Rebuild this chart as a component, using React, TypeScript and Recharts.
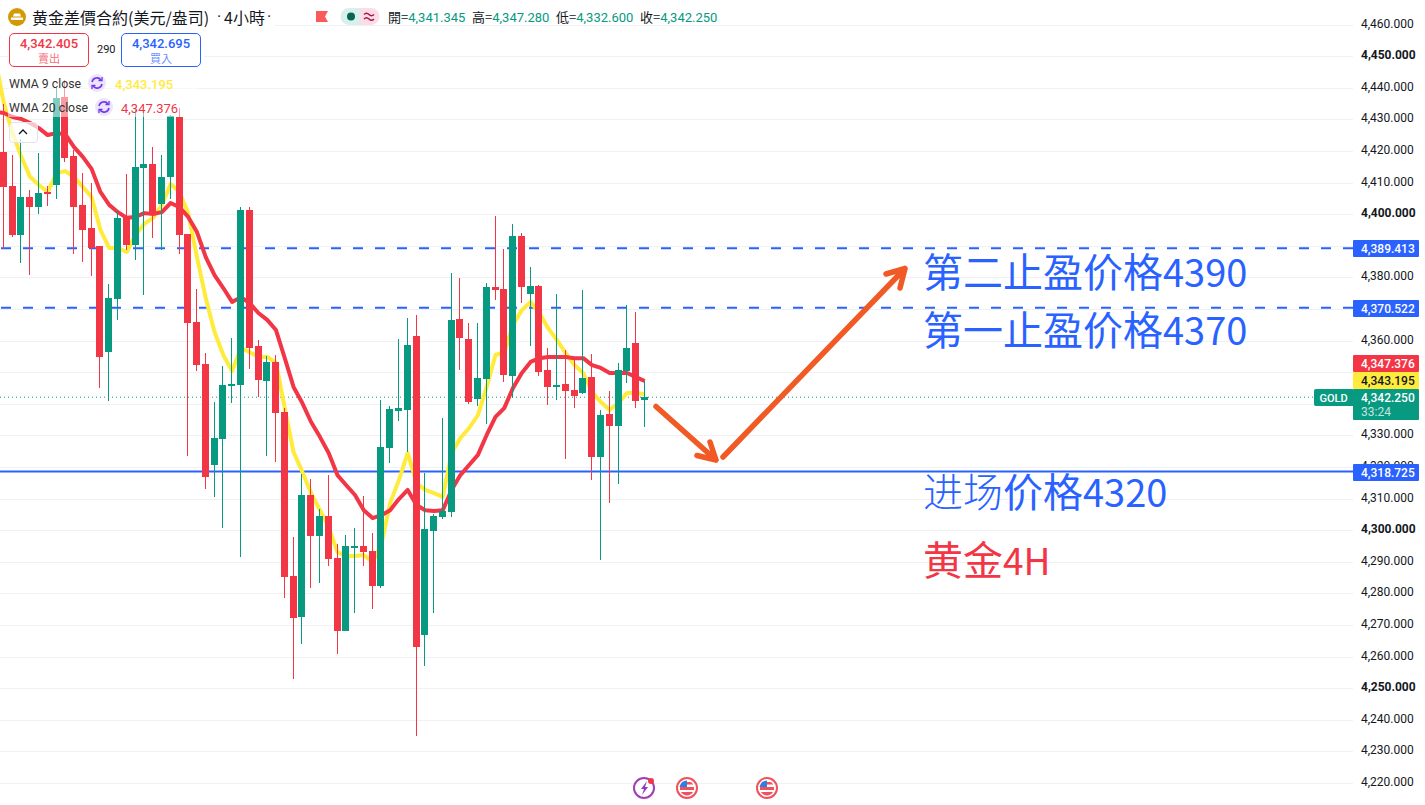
import { Bar, CartesianGrid, ComposedChart, Line, ReferenceLine, XAxis, YAxis } from "recharts"

const UP = "#089981"
const DOWN = "#f23645"
const BLUE = "#2962ff"
const YELLOW = "#ffeb3b"
const FONT = "Roboto, sans-serif"
const CJK = '"Noto Sans CJK TC", Roboto, sans-serif'
const CJK_SC = '"Noto Sans CJK SC", sans-serif'

const opens = [
  4419.9, 4409.1, 4393.6, 4405.6, 4402.5, 4407.2, 4409.4, 4437.3, 4418.6, 4403.1,
  4395.8, 4390.1, 4356.5, 4373.3, 4399.0, 4390.4, 4414.8, 4416.1, 4403.4, 4412.0,
  4431.0, 4393.9, 4366.0, 4352.7, 4320.7, 4329.0, 4345.8, 4346.1, 4401.5, 4358.5,
  4347.3, 4353.4, 4337.5, 4285.6, 4272.6, 4311.2, 4298.2, 4304.6, 4291.3, 4268.2,
  4294.8, 4295.1, 4293.5, 4282.4, 4326.1, 4337.8, 4338.2, 4361.6, 4266.9, 4299.8,
  4304.3, 4305.9, 4367.0, 4360.6, 4341.7, 4348.0, 4377.1, 4376.5, 4348.9, 4393.3,
  4374.9, 4377.5, 4350.8, 4345.5, 4346.4, 4344.5, 4343.6, 4348.6, 4323.3, 4336.9,
  4333.1, 4350.5, 4359.4, 4341.345,
]
const highs = [
  4435.1, 4418.9, 4424.0, 4407.9, 4419.6, 4409.1, 4440.2, 4442.7, 4420.5, 4413.2,
  4410.1, 4390.1, 4378.1, 4401.2, 4412.9, 4433.2, 4432.2, 4421.5, 4418.9, 4431.6,
  4433.8, 4393.9, 4376.5, 4356.2, 4340.7, 4352.1, 4361.0, 4402.5, 4402.5, 4360.3,
  4355.3, 4355.6, 4338.8, 4297.9, 4317.9, 4316.3, 4306.8, 4317.6, 4295.7, 4298.6,
  4300.8, 4310.9, 4299.2, 4341.3, 4339.4, 4360.6, 4367.3, 4368.2, 4318.2, 4305.2,
  4335.6, 4381.6, 4380.0, 4365.7, 4365.7, 4378.4, 4399.6, 4389.2, 4397.1, 4394.2,
  4383.5, 4377.8, 4357.8, 4374.9, 4357.2, 4354.0, 4376.2, 4355.9, 4338.2, 4344.2,
  4353.1, 4371.4, 4369.2, 4347.28,
]
const lows = [
  4389.2, 4393.0, 4384.7, 4380.9, 4400.2, 4402.8, 4405.0, 4416.7, 4387.6, 4385.1,
  4380.6, 4345.1, 4341.0, 4366.7, 4388.9, 4385.7, 4374.6, 4392.6, 4388.9, 4405.0,
  4387.6, 4323.6, 4350.5, 4313.1, 4310.6, 4300.8, 4340.4, 4291.6, 4351.2, 4342.3,
  4323.6, 4321.7, 4278.6, 4252.9, 4264.1, 4281.8, 4283.4, 4288.7, 4260.9, 4268.2,
  4273.9, 4288.7, 4275.1, 4281.8, 4321.4, 4334.7, 4324.8, 4234.9, 4257.1, 4273.9,
  4303.6, 4304.3, 4350.8, 4340.1, 4339.4, 4333.7, 4373.0, 4347.0, 4342.0, 4372.0,
  4358.5, 4348.9, 4339.8, 4341.3, 4322.6, 4338.8, 4343.2, 4316.0, 4290.6, 4308.7,
  4314.7, 4346.7, 4338.8, 4332.6,
]
const closes = [
  4408.8, 4393.6, 4405.6, 4402.5, 4406.9, 4406.6, 4437.0, 4418.0, 4402.5, 4395.2,
  4389.5, 4355.0, 4373.6, 4399.0, 4390.4, 4415.1, 4416.1, 4400.9, 4412.0, 4431.3,
  4393.6, 4365.7, 4352.4, 4316.9, 4329.3, 4346.1, 4346.4, 4401.5, 4357.8, 4347.6,
  4353.4, 4337.2, 4285.3, 4272.3, 4311.2, 4298.2, 4304.6, 4291.0, 4268.2, 4295.1,
  4295.1, 4293.2, 4282.4, 4326.5, 4338.5, 4338.8, 4358.8, 4263.1, 4300.5, 4304.6,
  4306.2, 4366.7, 4361.0, 4340.7, 4348.3, 4377.1, 4376.2, 4349.2, 4393.3, 4377.1,
  4377.5, 4350.2, 4345.5, 4346.1, 4344.2, 4342.6, 4348.3, 4323.3, 4336.6, 4333.1,
  4350.8, 4357.8, 4341.0, 4342.25,
]
// one extra leading point each: the lines run in from off the left edge
const wma9 = [
  4449.6, 4435.3, 4425.8, 4418.3, 4411.9, 4409.4, 4407.2, 4413.2, 4413.8, 4411.9,
  4408.8, 4405.6, 4395.2, 4389.5, 4389.5, 4388.2, 4393.6, 4397.1, 4399.0, 4403.1,
  4409.7, 4407.2, 4400.5, 4386.6, 4373.6, 4362.9, 4355.6, 4350.5, 4357.8, 4356.5,
  4355.0, 4355.0, 4353.1, 4338.8, 4324.9, 4318.6, 4311.9, 4306.5, 4301.2, 4293.2,
  4292.0, 4292.0, 4292.3, 4290.1, 4295.5, 4308.8, 4316.0, 4324.6, 4315.1, 4312.9,
  4311.9, 4310.7, 4324.6, 4329.3, 4332.5, 4336.6, 4345.5, 4355.6, 4356.5, 4365.1,
  4369.8, 4372.4, 4368.9, 4364.1, 4360.3, 4356.2, 4352.4, 4349.9, 4343.9, 4340.7,
  4338.2, 4340.4, 4343.6, 4343.6, 4343.195,
]
const wma20 = [
  4432.5, 4432.2, 4430.9, 4430.3, 4429.0, 4427.4, 4425.2, 4425.8, 4425.5, 4421.4,
  4418.3, 4414.5, 4407.2, 4403.1, 4400.8, 4399.0, 4399.3, 4400.5, 4400.2, 4400.8,
  4403.7, 4402.4, 4399.3, 4394.5, 4386.6, 4380.9, 4376.8, 4372.4, 4373.9, 4372.0,
  4368.9, 4366.7, 4363.5, 4354.6, 4345.5, 4340.4, 4334.4, 4329.7, 4324.6, 4317.6,
  4314.4, 4311.3, 4306.5, 4304.0, 4304.9, 4306.5, 4310.0, 4312.9, 4308.1, 4306.5,
  4306.2, 4306.5, 4312.9, 4317.6, 4320.8, 4324.0, 4330.3, 4336.0, 4338.8, 4345.2,
  4349.9, 4353.4, 4354.6, 4355.0, 4355.0, 4355.0, 4354.6, 4354.6, 4352.4, 4351.5,
  4349.9, 4349.9, 4349.9, 4348.6, 4347.376,
]

const priceTicks = [
  4220, 4230, 4240, 4250, 4260, 4270, 4280, 4290, 4300, 4310, 4320, 4330, 4340,
  4350, 4360, 4370, 4380, 4390, 4400, 4410, 4420, 4430, 4440, 4450, 4460,
]
// these sit under the price tags in the reference, only their grid lines show
const coveredTicks = [4340, 4350, 4370, 4390]
const timeTicks = [
  1, 7, 13, 19, 25, 31, 37, 43, 49, 55, 61, 67, 73, 79, 85, 91, 97, 103, 109, 115,
  121, 127, 133, 139, 145, 151,
]
const priceDomain = [4213.2, 4467.94]
const slotDomain = [-0.434, 153.67]

const data = wma9.map((v, n) => {
  const i = n - 1
  return {
    slot: i,
    wma9: v,
    wma20: wma20[n],
    range: i < 0 ? null : [lows[i], highs[i]],
    open: opens[i],
    close: closes[i],
    high: highs[i],
    low: lows[i],
  }
})

const fmt = (v: number) =>
  v.toLocaleString("en-US", { minimumFractionDigits: 3, maximumFractionDigits: 3 })

function Candle(props: any) {
  const { x, y, width, height, payload } = props
  if (!payload || payload.range == null) return null
  const k = height / (payload.high - payload.low)
  const left = Math.floor(x + width / 2 - 0.5)
  const up = payload.close >= payload.open
  const top = Math.round(y + (payload.high - Math.max(payload.open, payload.close)) * k)
  const bottom = Math.round(y + (payload.high - Math.min(payload.open, payload.close)) * k)
  const color = up ? UP : DOWN
  return (
    <g>
      <rect x={left} y={Math.round(y)} width={1} height={Math.round(height)} fill={color} />
      <rect x={left - 3} y={top} width={7} height={Math.max(bottom - top, 2)} fill={color} />
    </g>
  )
}

function PriceTick(props: any) {
  const { x, y, payload } = props
  if (coveredTicks.includes(payload.value)) return null
  const bold = payload.value % 50 === 0
  return (
    <text
      x={x}
      y={y - 1.5}
      dominantBaseline="central"
      fontFamily={FONT}
      fontSize={12}
      fontWeight={bold ? 700 : 400}
      fill="#131722"
    >
      {fmt(payload.value)}
    </text>
  )
}

function priceTag(value: number, fill: string, color: string, dy: number, extra?: string) {
  return (p: any) => {
    const vb = p.viewBox
    const tx = vb.x + vb.width
    const top = Math.round(vb.y + dy)
    return (
      <g>
        <rect x={tx} y={top} width={66} height={extra ? 31 : 17} rx={1} fill={fill} />
        <text x={tx + 8} y={top + 8.5} dominantBaseline="central" fontFamily={FONT} fontSize={12} fontWeight={500} fill={color}>
          {fmt(value)}
        </text>
        {extra && (
          <text x={tx + 8} y={top + 22.5} dominantBaseline="central" fontFamily={FONT} fontSize={12} fill={color} opacity={0.75}>
            {extra}
          </text>
        )}
      </g>
    )
  }
}

function GridH(p: any) {
  const y = Math.floor(p.y1) + 0.5
  return <line x1={p.x1} x2={p.x2} y1={y} y2={y} stroke="#f0f1f4" />
}

function GridV(p: any) {
  const x = Math.floor(p.x1 - 0.5) + 0.5
  return <line x1={x} x2={x} y1={p.y1} y2={p.y2} stroke="#f0f1f4" />
}

function Quote(props: { left: number; color: string; price: string; label: string }) {
  const { left, color, price, label } = props
  return (
    <div
      style={{
        position: "absolute",
        left,
        top: 33,
        width: 78,
        height: 32,
        border: `1px solid ${color}`,
        borderRadius: 5,
        background: "#fff",
        textAlign: "center",
        color,
      }}
    >
      <div style={{ fontFamily: FONT, fontSize: 13, fontWeight: 500, lineHeight: "17px", marginTop: 1 }}>{price}</div>
      <div style={{ fontFamily: CJK, fontSize: 11, lineHeight: "13px", opacity: 0.7 }}>{label}</div>
    </div>
  )
}

function SyncIcon({ cx, cy }: { cx: number; cy: number }) {
  return (
    <g fill="none" stroke="#7435f0" strokeWidth={1.6}>
      <circle cx={cx} cy={cy} r={9} fill="#ebe6f7" stroke="none" />
      <path d={`M${cx - 5} ${cy - 1}a5 5 0 0 1 9-2`} />
      <path d={`M${cx + 5} ${cy + 1}a5 5 0 0 1-9 2`} />
      <path d={`M${cx + 5} ${cy - 6}v3.5h-3.5`} strokeWidth={1.3} />
      <path d={`M${cx - 5} ${cy + 6}v-3.5h3.5`} strokeWidth={1.3} />
    </g>
  )
}

function FlagIcon({ cx, cy }: { cx: number; cy: number }) {
  return (
    <g>
      <circle cx={cx} cy={cy} r={10} fill="#fff" stroke="#f0515d" strokeWidth={2} />
      <path d={`M${cx - 7} ${cy - 1}h14v3h-14z M${cx - 6} ${cy + 4}h12a7 7 0 0 1-12 0z M${cx} ${cy - 6}h4l2.5 2.5h-6.5z`} fill="#f0515d" />
      <path d={`M${cx - 7.5} ${cy - 1}a7.5 7.5 0 0 1 7.5-6.5v6.5z`} fill="#2f7fe0" />
    </g>
  )
}

const absText = (left: number, top: number, size: number, color: string, family = FONT) =>
  ({ position: "absolute", left, top, fontFamily: family, fontSize: size, color, whiteSpace: "nowrap" } as const)

function Overlay() {
  return (
    <>
      <div style={{ position: "absolute", left: 0, top: 0, width: 275, height: 31, background: "#fff" }} />
      <div style={{ position: "absolute", left: 8, top: 31, width: 196, height: 42, background: "#fff" }} />
      <div style={{ position: "absolute", left: 8, top: 73, width: 190, height: 44, background: "rgba(255,255,255,0.5)" }} />
      <div style={{ ...absText(32, 5, 16, "#131722", CJK), lineHeight: "24px" }}>黄金差價合約(美元/盎司)</div>
      <div style={{ ...absText(217, 5, 16, "#131722"), lineHeight: "24px" }}>·</div>
      <div style={{ ...absText(224, 5, 16, "#131722", CJK), lineHeight: "24px" }}>4小時</div>
      <div style={{ ...absText(267, 5, 16, "#131722"), lineHeight: "24px" }}>·</div>
      <Quote left={9} color={DOWN} price="4,342.405" label="賣出" />
      <div style={absText(97, 43, 11, "#131722")}>290</div>
      <Quote left={121} color={BLUE} price="4,342.695" label="買入" />
      <div style={{ ...absText(9, 76, 12.3, "#333"), lineHeight: "17px" }}>WMA 9 close</div>
      <div style={{ ...absText(115, 76, 13, YELLOW), fontWeight: 500, lineHeight: "17px" }}>4,343.195</div>
      <div style={{ ...absText(9, 100, 12.3, "#333"), lineHeight: "17px" }}>WMA 20 close</div>
      <div style={{ ...absText(121, 100, 13, DOWN), lineHeight: "17px" }}>4,347.376</div>
      <div style={{ position: "absolute", left: 9, top: 122, width: 27, height: 19, border: "1px solid #e0e3eb", borderRadius: 4, background: "rgba(255,255,255,0.7)" }} />
      <div style={{ ...absText(388, 8, 13, "#131722", CJK), lineHeight: "17px" }}>
        {[["開", "4,341.345"], ["高", "4,347.280"], ["低", "4,332.600"], ["收", "4,342.250"]].map(([k, v]) => (
          <span key={k} style={{ display: "inline-block", width: 84 }}>
            {k}=<span style={{ color: UP, fontFamily: FONT }}>{v}</span>
          </span>
        ))}
      </div>
      <svg width={1425} height={805} style={{ position: "absolute", left: 0, top: 0, pointerEvents: "none" }}>
        <circle cx={17} cy={17} r={9} fill="#d49a06" />
        <path d="M11 20h12v-2.5h-12z M13 16.5h8l-1-3h-6z" fill="#fff" />
        <path d="M316 11h12l-3 5.5 3 5.5h-12z" fill="#fb5a5a" />
        <path d="M349 8h11v17h-11a8.5 8.5 0 0 1 0-17z" fill="#d8efeb" />
        <path d="M360 8h11a8.5 8.5 0 0 1 0 17h-11z" fill="#fcdde6" />
        <circle cx={351} cy={16.5} r={4} fill="#056656" />
        <path d="M364 14.5q2.5-2.5 5 0t5 0M364 19q2.5-2.5 5 0t5 0" fill="none" stroke="#a9124f" strokeWidth={1.5} />
        <SyncIcon cx={97} cy={83} />
        <SyncIcon cx={104} cy={107} />
        <path d="M19 134l4-4 4 4" fill="none" stroke="#131722" strokeWidth={1.3} />

        <g fill="none" stroke="#f15a24" strokeWidth={5.5} strokeLinecap="round" strokeLinejoin="round">
          <path d="M656 406.5L716 460M697 455.5L716 460L710 442" />
          <path d="M723 457L905 268.5M886 274L905 268.5L900 288" />
        </g>

        <g fontFamily={CJK_SC} fontSize={40} fill={BLUE}>
          <text x={923} y={287}>第二止盈价格<tspan fontSize={38}>4390</tspan></text>
          <text x={923} y={345}>第一止盈价格<tspan fontSize={38}>4370</tspan></text>
          <text x={923} y={507}>
            <tspan fontWeight={300}>进场</tspan>价格<tspan fontSize={38}>4320</tspan>
          </text>
        </g>
        <text x={923} y={575} fontFamily={CJK_SC} fontSize={40} fill={DOWN}>
          黄金<tspan fontSize={37}>4H</tspan>
        </text>

        <circle cx={644} cy={788} r={10} fill="#fff" stroke="#a23cb8" strokeWidth={2} />
        <path d="M647 781l-6 8h3l-2 6 6-8h-3z" fill="#8e3bc0" />
        <circle cx={651} cy={781} r={3} fill="#f23645" />
        <FlagIcon cx={687} cy={788} />
        <FlagIcon cx={767} cy={788} />
      </svg>
    </>
  )
}

const xAxisProps = {
  type: "number",
  dataKey: "slot",
  domain: slotDomain,
  allowDataOverflow: true,
  ticks: timeTicks,
  height: 0,
  tick: false,
  axisLine: false,
  tickLine: false,
} as const

export default function App() {
  return (
    <div style={{ position: "absolute", left: 0, top: 0, width: 1425, height: 805, overflow: "hidden", background: "#fff" }}>
      <ComposedChart width={1425} height={805} data={data} margin={{ top: 0, right: 0, bottom: 0, left: 0 }}>
        <CartesianGrid syncWithTicks horizontal={GridH} vertical={GridV} />
        <XAxis {...xAxisProps} />
        <YAxis
          orientation="right"
          width={72}
          domain={priceDomain}
          allowDataOverflow
          ticks={priceTicks}
          interval={0}
          tick={<PriceTick />}
          axisLine={false}
          tickLine={false}
        />
        <ReferenceLine y={4389.413} stroke={BLUE} strokeWidth={2} strokeDasharray="10 12" zIndex={250} />
        <ReferenceLine y={4370.522} stroke={BLUE} strokeWidth={2} strokeDasharray="10 12" zIndex={250} />
        <ReferenceLine y={4318.725} stroke={BLUE} strokeWidth={2} zIndex={250} />
        <ReferenceLine y={4342.25} stroke={UP} strokeDasharray="1 3" zIndex={250} />
        <Line dataKey="wma9" stroke={YELLOW} strokeWidth={4} dot={false} isAnimationActive={false} strokeLinejoin="round" zIndex={260} />
        <Line dataKey="wma20" stroke={DOWN} strokeWidth={4} dot={false} isAnimationActive={false} strokeLinejoin="round" zIndex={270} />
        <Bar dataKey="range" barSize={7} isAnimationActive={false} shape={<Candle />} zIndex={300} />
      </ComposedChart>
      <div style={{ position: "absolute", left: 0, top: 0 }}>
        <ComposedChart width={1425} height={805} data={data} margin={{ top: 0, right: 0, bottom: 0, left: 0 }}>
          <XAxis {...xAxisProps} />
          <YAxis orientation="right" width={72} domain={priceDomain} allowDataOverflow tick={false} axisLine={false} tickLine={false} />
          <ReferenceLine y={4389.413} stroke="none" label={priceTag(4389.413, BLUE, "#fff", -8)} />
          <ReferenceLine y={4370.522} stroke="none" label={priceTag(4370.522, BLUE, "#fff", -8)} />
          <ReferenceLine y={4318.725} stroke="none" label={priceTag(4318.725, BLUE, "#fff", -8)} />
          <ReferenceLine y={4342.25} stroke="none" label={priceTag(4342.25, UP, "#fff", -8, "33:24")} />
          <ReferenceLine y={4343.195} stroke="none" label={priceTag(4343.195, YELLOW, "#131722", -22)} />
          <ReferenceLine y={4347.376} stroke="none" label={priceTag(4347.376, DOWN, "#fff", -26)} />
        </ComposedChart>
      </div>
      <svg width={40} height={17} style={{ position: "absolute", left: 1314, top: 389 }}>
        <path d="M2 0h37v17h-37a2 2 0 0 1-2-2v-13a2 2 0 0 1 2-2z" fill={UP} />
        <text x={19.5} y={9} textAnchor="middle" dominantBaseline="central" fontFamily={FONT} fontSize={11} fontWeight={500} fill="#fff">GOLD</text>
      </svg>
      <Overlay />
    </div>
  )
}
